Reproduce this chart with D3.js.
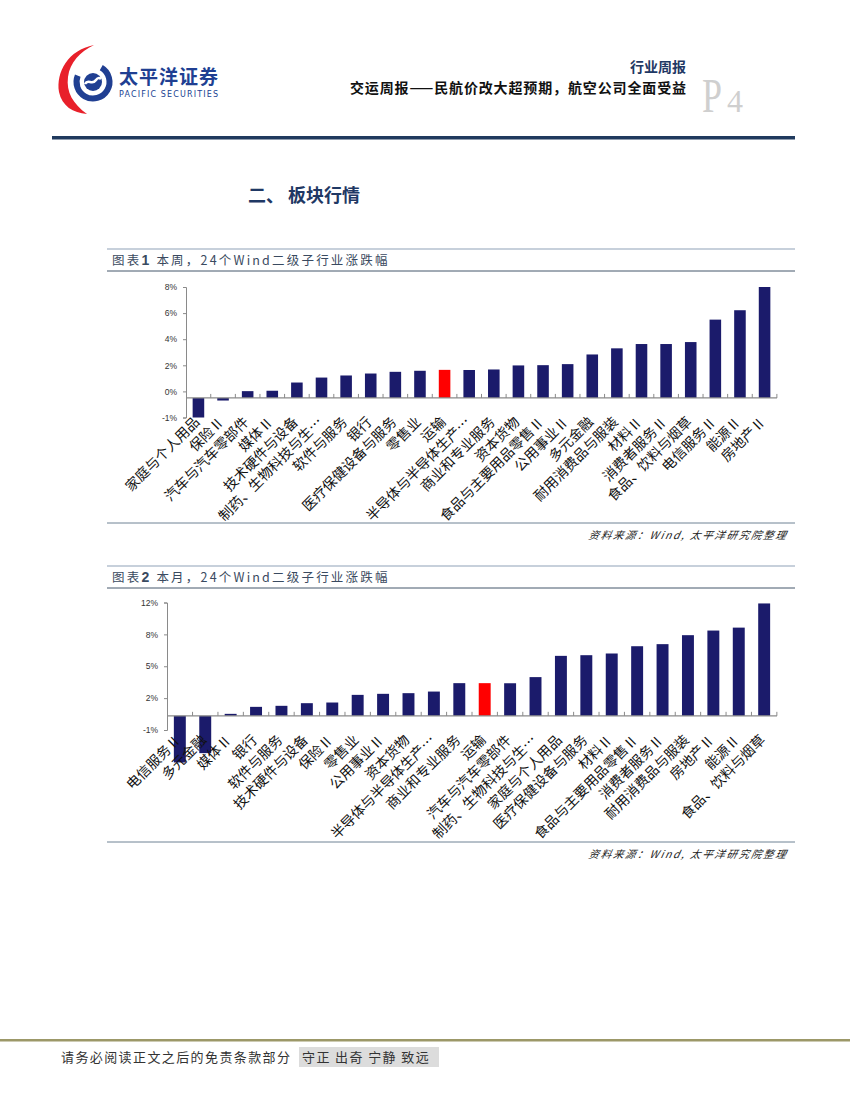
<!DOCTYPE html>
<html>
<head>
<meta charset="utf-8">
<script src="https://cdn.jsdelivr.net/npm/d3@7"></script>
<style>
  body { margin: 0; background: #fff; }
  svg { display: block; }
</style>
</head>
<body>
<script>
const W = 850, H = 1100;

// 本周 data
const weekCats = ["家庭与个人用品", "保险Ⅱ", "汽车与汽车零部件", "媒体Ⅱ", "技术硬件与设备", "制药、生物科技与生…", "软件与服务", "银行", "医疗保健设备与服务", "零售业", "运输", "半导体与半导体生产…", "商业和专业服务", "资本货物", "食品与主要用品零售Ⅱ", "公用事业Ⅱ", "多元金融", "耐用消费品与服装", "材料Ⅱ", "消费者服务Ⅱ", "食品、饮料与烟草", "电信服务Ⅱ", "能源Ⅱ", "房地产Ⅱ"];
const weekVals = [-1.5, -0.2, 0.52, 0.55, 1.18, 1.56, 1.72, 1.87, 2.0, 2.08, 2.15, 2.14, 2.18, 2.49, 2.51, 2.59, 3.33, 3.8, 4.13, 4.13, 4.28, 6.0, 6.72, 8.5];
const weekTicks = [-1.5, 0.5, 2.5, 4.5, 6.5, 8.5];
const weekTickLabels = ["-1%", "0%", "2%", "4%", "6%", "8%"];

// 本月 data
const monthCats = ["电信服务Ⅱ", "多元金融", "媒体Ⅱ", "银行", "软件与服务", "技术硬件与设备", "保险Ⅱ", "零售业", "公用事业Ⅱ", "资本货物", "半导体与半导体生产…", "商业和专业服务", "运输", "汽车与汽车零部件", "制药、生物科技与生…", "家庭与个人用品", "医疗保健设备与服务", "材料Ⅱ", "食品与主要用品零售Ⅱ", "消费者服务Ⅱ", "耐用消费品与服装", "房地产Ⅱ", "能源Ⅱ", "食品、饮料与烟草"];
const monthVals = [-4.94, -3.95, 0.21, 0.95, 1.06, 1.34, 1.41, 2.22, 2.33, 2.4, 2.57, 3.46, 3.46, 3.45, 4.1, 6.35, 6.42, 6.6, 7.37, 7.59, 8.54, 9.03, 9.34, 11.9];
const monthTicks = [-1.5, 1.875, 5.25, 8.625, 12];
const monthTickLabels = ["-1%", "2%", "5%", "8%", "12%"];

const highlight = "运输";
const NAVY = "#1f3864";
const BAR = "#1b1b6b";
const CJK = "'Noto Sans CJK SC', 'Noto Sans', sans-serif";

const svg = d3.select("body").append("svg")
  .attr("width", W).attr("height", H);

// ---------- header ----------
const logo = svg.append("g");
logo.append("path")
  .attr("d", "M94,45 C68,50 56,72 59,92 C62,106 73,113 87,114 C73,104 66,92 68,77 C70,62 80,52 94,45 Z")
  .attr("fill", "#e8202a");
logo.append("circle").attr("cx", 93).attr("cy", 82).attr("r", 16.5)
  .attr("fill", "none").attr("stroke", "#203f92").attr("stroke-width", 6)
  .attr("stroke-dasharray", "75 29").attr("transform", "rotate(-60,93,82)");
logo.append("circle").attr("cx", 93).attr("cy", 82).attr("r", 9).attr("fill", "#203f92");
logo.append("path").attr("d", "M85,84 C88,78 92,86 96,80 C98,77 100,78 101,79")
  .attr("fill", "none").attr("stroke", "#fff").attr("stroke-width", 2.5);

svg.append("text").attr("x", 119).attr("y", 84)
  .attr("font-family", CJK).attr("font-weight", "bold").attr("font-size", 19)
  .attr("fill", "#203f92").attr("textLength", 99).text("太平洋证券");
svg.append("text").attr("x", 119).attr("y", 97)
  .attr("font-family", "'DejaVu Sans', sans-serif").attr("font-size", 8)
  .attr("fill", "#203f92").attr("textLength", 99).text("PACIFIC SECURITIES");

svg.append("text").attr("x", 686).attr("y", 72).attr("text-anchor", "end")
  .attr("font-family", CJK).attr("font-weight", "bold").attr("font-size", 14)
  .attr("fill", NAVY).text("行业周报");
svg.append("text").attr("x", 686).attr("y", 93).attr("text-anchor", "end")
  .attr("font-family", CJK).attr("font-weight", "bold").attr("font-size", 14)
  .attr("fill", "#111").attr("textLength", 336)
  .text("交运周报——民航价改大超预期，航空公司全面受益");
svg.append("text").attr("x", 702).attr("y", 112)
  .attr("font-family", "'Liberation Serif', serif").attr("font-size", 48)
  .attr("fill", "#cfcfcf").attr("textLength", 20).attr("lengthAdjust", "spacingAndGlyphs").text("P");
svg.append("text").attr("x", 727).attr("y", 112)
  .attr("font-family", "'Liberation Serif', serif").attr("font-size", 32)
  .attr("fill", "#cfcfcf").text("4");

svg.append("rect").attr("x", 52).attr("y", 136).attr("width", 743).attr("height", 3.5)
  .attr("fill", "#203a5e");

svg.append("text").attr("x", 248).attr("y", 202)
  .attr("font-family", CJK).attr("font-weight", "bold").attr("font-size", 18)
  .attr("fill", NAVY).text("二、 板块行情");

// ---------- chart boxes ----------
function chartBox(num, label, topY, bottomY) {
  svg.append("line").attr("x1", 107).attr("x2", 795).attr("y1", topY).attr("y2", topY)
    .attr("stroke", "#8fa2b8").attr("stroke-width", 1.2);
  svg.append("line").attr("x1", 107).attr("x2", 795).attr("y1", topY + 22).attr("y2", topY + 22)
    .attr("stroke", "#44566a").attr("stroke-width", 1);
  const t = svg.append("text").attr("x", 112).attr("y", topY + 15.5)
    .attr("font-family", CJK).attr("font-size", 12.5).attr("fill", "#3a4a60")
    .attr("letter-spacing", 2.2);
  t.append("tspan").text("图表");
  t.append("tspan").attr("font-weight", "bold").attr("font-family", "'Liberation Sans', sans-serif")
    .attr("font-size", 14).text(num);
  t.append("tspan").text(" " + label);
  svg.append("line").attr("x1", 107).attr("x2", 795).attr("y1", bottomY).attr("y2", bottomY)
    .attr("stroke", "#6f8294").attr("stroke-width", 1);
  svg.append("text").attr("x", 787).attr("y", bottomY + 16).attr("text-anchor", "end")
    .attr("font-family", CJK).attr("font-size", 10.5).attr("font-style", "italic")
    .attr("letter-spacing", 1.7).attr("fill", "#222")
    .attr("transform", `skewX(-12) translate(${(bottomY + 16) * Math.tan(12 * Math.PI / 180)},0)`)
    .text("资料来源：Wind, 太平洋研究院整理");
}
chartBox("1", "本周，24个Wind二级子行业涨跌幅", 249, 523);
chartBox("2", "本月，24个Wind二级子行业涨跌幅", 566, 842);

// ---------- bar charts ----------
function barChart(cats, vals, ticks, tickLabels, x0, x1, yTop, yBot) {
  const g = svg.append("g");
  const x = d3.scaleBand().domain(cats).range([x0, x1]).paddingInner(0.53).paddingOuter(0.27);
  const y = d3.scaleLinear().domain([ticks[0], ticks[ticks.length - 1]]).range([yBot, yTop]);
  const data = cats.map((c, i) => ({ c, v: vals[i] }));
  const zero = y(0);

  g.selectAll("rect.bar").data(data).enter().append("rect")
    .attr("class", "bar")
    .attr("x", d => x(d.c))
    .attr("width", x.bandwidth())
    .attr("y", d => Math.min(y(d.v), zero))
    .attr("height", d => Math.abs(y(d.v) - zero))
    .attr("fill", d => d.c === highlight ? "#ff0000" : BAR);

  // y axis
  const yAxis = d3.axisLeft(y).tickValues(ticks).tickSize(3)
    .tickFormat((d, i) => tickLabels[i]);
  const ga = g.append("g").attr("transform", `translate(${x0},0)`).call(yAxis);
  ga.select(".domain").attr("stroke", "#8a8a8a");
  ga.selectAll(".tick line").attr("stroke", "#8a8a8a");
  ga.selectAll(".tick text").attr("x", -9)
    .attr("font-family", "'Liberation Sans', Arial, sans-serif").attr("font-size", 8.5).attr("fill", "#333");

  // x axis line at zero with inside ticks at band edges
  g.append("line").attr("x1", x0).attr("x2", x1).attr("y1", zero).attr("y2", zero)
    .attr("stroke", "#8a8a8a").attr("stroke-width", 1.2);
  const step = x.step();
  const edges = d3.range(1, cats.length + 1).map(i => x(cats[i - 1]) - step * x.paddingInner() / 2 + step);
  g.selectAll("line.xt").data(edges).enter().append("line")
    .attr("x1", d => d).attr("x2", d => d).attr("y1", zero).attr("y2", zero - 4)
    .attr("stroke", "#8a8a8a");

  // category labels
  g.selectAll("text.cat").data(data).enter().append("text")
    .attr("class", "cat")
    .attr("text-anchor", "end")
    .attr("font-family", CJK).attr("font-size", 14).attr("fill", "#111")
    .attr("transform", d => `translate(${x(d.c) + x.bandwidth() / 2 + 2},${zero + 25}) rotate(-45)`)
    .text(d => d.c);
}

barChart(weekCats, weekVals, weekTicks, weekTickLabels, 186, 777, 287, 417.5);
barChart(monthCats, monthVals, monthTicks, monthTickLabels, 167, 777, 602.5, 730);

// ---------- footer ----------
svg.append("rect").attr("x", 0).attr("y", 1039).attr("width", W).attr("height", 2.5)
  .attr("fill", "#9c9868");
svg.append("rect").attr("x", 299).attr("y", 1047).attr("width", 140).attr("height", 20)
  .attr("fill", "#dcdcdc");
svg.append("text").attr("x", 61).attr("y", 1062)
  .attr("font-family", CJK).attr("font-size", 13).attr("fill", "#333")
  .attr("letter-spacing", 1.4).text("请务必阅读正文之后的免责条款部分");
svg.append("text").attr("x", 302).attr("y", 1062)
  .attr("font-family", CJK).attr("font-size", 13).attr("fill", "#333")
  .attr("letter-spacing", 1.4).text("守正 出奇 宁静 致远");
</script>
</body>
</html>
